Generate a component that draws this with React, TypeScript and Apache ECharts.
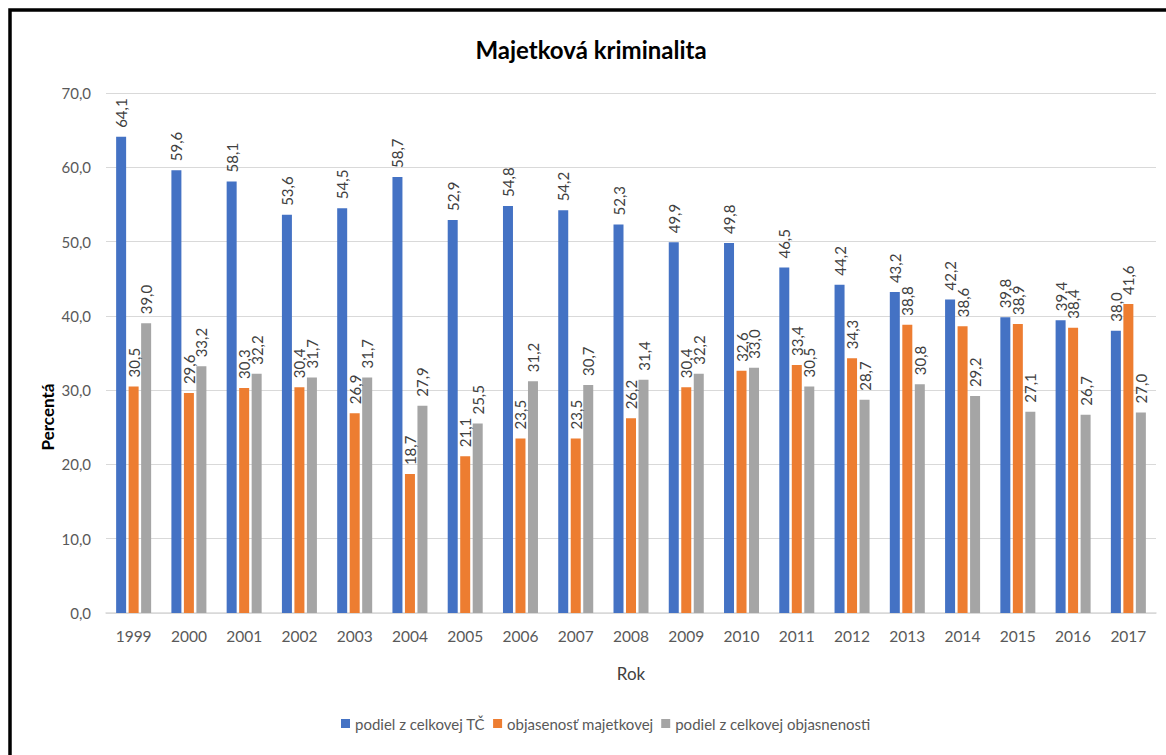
import React, { useEffect, useRef } from "react";
import * as echarts from "echarts";

const years = ["1999","2000","2001","2002","2003","2004","2005","2006","2007","2008","2009","2010","2011","2012","2013","2014","2015","2016","2017"];
const podielTC = [64.1,59.6,58.1,53.6,54.5,58.7,52.9,54.8,54.2,52.3,49.9,49.8,46.5,44.2,43.2,42.2,39.8,39.4,38.0];
const objasnenostMaj = [30.5,29.6,30.3,30.4,26.9,18.7,21.1,23.5,23.5,26.2,30.4,32.6,33.4,34.3,38.8,38.6,38.9,38.4,41.6];
const podielObjas = [39.0,33.2,32.2,31.7,31.7,27.9,25.5,31.2,30.7,31.4,32.2,33.0,30.5,28.7,30.8,29.2,27.1,26.7,27.0];
const seriesNames = ["podiel z celkovej TČ", "objasenosť majetkovej", "podiel z celkovej objasnenosti"];
const colors = ["#4472C4", "#ED7D31", "#A5A5A5"];

const FONT = "Lato, 'Open Sans', sans-serif";
const fmt = (v: number) => v.toFixed(1).replace(".", ",");

export default function App() {
  const ref = useRef<HTMLDivElement>(null);
  useEffect(() => {
    if (!ref.current) return;
    const chart = echarts.init(ref.current, undefined, { renderer: "svg" });
    const mk = (name: string, data: number[], color: string) => ({
      name,
      type: "bar",
      data,
      barWidth: 10,
      barGap: "25%",
      itemStyle: { color },
      label: {
        show: true,
        position: "top",
        rotate: 90,
        align: "left",
        verticalAlign: "middle",
        distance: 9,
        color: "#404040",
        fontSize: 15,
        fontFamily: FONT,
        formatter: (p: any) => fmt(p.value),
      },
    });
    chart.setOption({
      animation: false,
      textStyle: { fontFamily: FONT },
      title: {
        text: "Majetková kriminalita",
        left: 586,
        top: 32,
        textAlign: "center",
        textStyle: { fontSize: 24, fontWeight: "bold", color: "#000", fontFamily: FONT },
      },
      graphic: [
        {
          type: "rect",
          shape: { x: 10, y: 10, width: 1200, height: 800 },
          style: { fill: "none", stroke: "#000", lineWidth: 3.5 },
          z: 100,
        },
        {
          type: "text",
          x: 47,
          y: 417,
          rotation: Math.PI / 2,
          style: {
            text: "Percentá",
            fontSize: 17,
            fontWeight: "bold",
            fill: "#000",
            fontFamily: FONT,
            align: "center",
            verticalAlign: "middle",
          },
        },
      ],
      legend: {
        data: seriesNames,
        bottom: 19,
        left: 336,
        icon: "rect",
        itemWidth: 9,
        itemHeight: 9,
        itemGap: 8,
        textStyle: { fontSize: 15, color: "#595959", fontFamily: FONT },
      },
      grid: { left: 106, right: 10, top: 93, bottom: 142, containLabel: false },
      xAxis: {
        type: "category",
        data: years,
        name: "Rok",
        nameLocation: "middle",
        nameGap: 52,
        nameTextStyle: { fontSize: 17, color: "#404040", fontFamily: FONT },
        axisTick: { show: false },
        axisLine: { lineStyle: { color: "#D9D9D9", width: 1.5 } },
        axisLabel: { color: "#595959", fontSize: 15.5, margin: 15, fontFamily: FONT },
      },
      yAxis: {
        type: "value",
        min: 0,
        max: 70,
        interval: 10,
        axisLabel: { color: "#595959", fontSize: 15, margin: 15, formatter: (v: number) => fmt(v), fontFamily: FONT },
        splitLine: { lineStyle: { color: "#D9D9D9" } },
        axisLine: { show: false },
        axisTick: { show: false },
      },
      series: [
        mk(seriesNames[0], podielTC, colors[0]),
        mk(seriesNames[1], objasnenostMaj, colors[1]),
        mk(seriesNames[2], podielObjas, colors[2]),
      ],
    });
    return () => chart.dispose();
  }, []);
  return (
    <div
      ref={ref}
      style={{ position: "fixed", left: 0, top: 0, width: 1166, height: 755, background: "#fff" }}
    />
  );
}
